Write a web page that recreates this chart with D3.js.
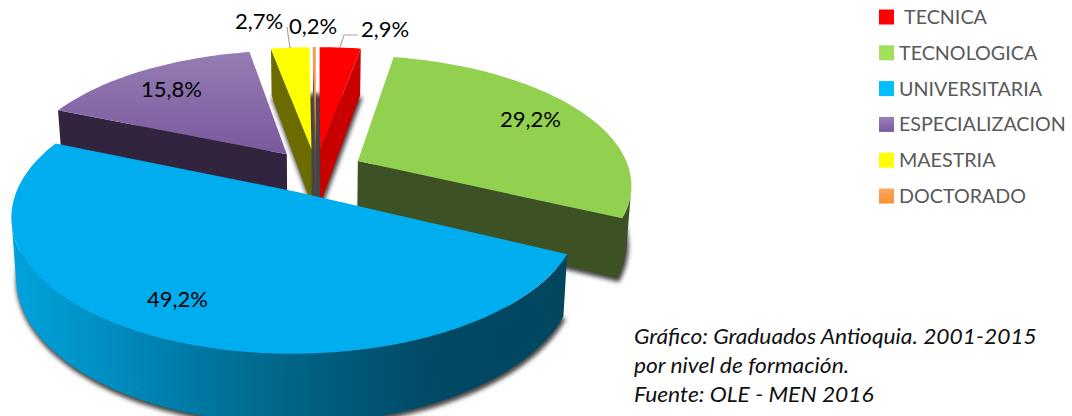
<!DOCTYPE html>
<html><head><meta charset="utf-8">
<script src="https://cdn.jsdelivr.net/npm/d3@7"></script>
<style>html,body{margin:0;padding:0;background:#fff}svg{display:block}text{font-family:Lato,sans-serif}</style>
</head><body><svg id="c" width="1072" height="416"></svg>
<script>
const categories = ["TECNICA","TECNOLOGICA","UNIVERSITARIA","ESPECIALIZACION","MAESTRIA","DOCTORADO"];
const values = [2.9,29.2,49.2,15.8,2.7,0.2];
const topColors = ["#ff0000","#92d050","#00aeef","url(#purpleTop)","#ffff00","#f79646"];
const wallColors = ["#c80000","#3d5224","url(#blueWall)","#32233f","#6b6b00","#6a5040"];
const legendColors = ["#ff0000","#a2e05c","#00bfff","url(#purpleLeg)","#ffff00","url(#orangeLeg)"];
const drawOrder = [3,0,4,5,1,2];
const caption = ["Gráfico: Graduados Antioquia. 2001-2015","por nivel de formación.","Fuente: OLE - MEN 2016"];

const X0=316,Y0=171,R=272,Rk=126.5,P=0.17,H=56,EXPLODE=0.175;
const svg=d3.select("#c");
const defs=svg.append("defs");
function grad(id,attrs,stops){const g=defs.append("linearGradient").attr("id",id);
  Object.entries(attrs).forEach(([k,v])=>g.attr(k,v));
  stops.forEach(([o,c])=>g.append("stop").attr("offset",o).attr("stop-color",c));}
grad("purpleTop",{gradientUnits:"userSpaceOnUse",x1:0,x2:0,y1:50,y2:155},[[0,"#957eb2"],[1,"#7a589e"]]);
grad("blueWall",{gradientUnits:"userSpaceOnUse",x1:11,x2:566,y1:0,y2:0},[[0,"#00a3dc"],[.17,"#008fc2"],[.35,"#0076a0"],[.55,"#005f80"],[.75,"#004a66"],[1,"#00465f"]]);
grad("purpleLeg",{x1:0,x2:0,y1:0,y2:1},[[0,"#9a82b8"],[1,"#7a589e"]]);
grad("orangeLeg",{x1:0,x2:0,y1:0,y2:1},[[0,"#ffa860"],[1,"#f79030"]]);
defs.append("filter").attr("id","soft").attr("x","-20%").attr("y","-20%").attr("width","140%").attr("height","140%")
  .append("feGaussianBlur").attr("stdDeviation",2);

const arcs=d3.pie().sort(null).value(d=>d)(values);
// perspective projection of a point on the pie's plane (z=0 top, z=1 bottom)
function proj(u,v,z){const s=1/(1-P*v);return [X0+R*u*s*(1-0.015*z),Y0+Rk*v*s+H*z*s];}
const line=d3.line();
const slices=arcs.map((a,i)=>{
  const mid=(a.startAngle+a.endAngle)/2;
  const ou=EXPLODE*Math.sin(mid),ov=-EXPLODE*Math.cos(mid);
  const n=Math.max(2,Math.ceil((a.endAngle-a.startAngle)/0.02));
  const th=d3.range(n+1).map(k=>a.startAngle+(a.endAngle-a.startAngle)*k/n);
  const at=(t,z)=>proj(ou+Math.sin(t),ov-Math.cos(t),z);
  return {i,th,at,apex:z=>proj(ou,ov,z)};
});
function wall(P0,P1,B1,B0){return line([P0,P1,B1,B0])+"Z";}

// soft shadow under every slice, taken from its bottom face
const sh=svg.append("g").attr("filter","url(#soft)").attr("transform","translate(1,3)");
slices.forEach(s=>{
  sh.append("path").attr("d",line([s.apex(1),...s.th.map(t=>s.at(t,1))])+"Z")
    .attr("fill","#444").attr("stroke","#444").attr("stroke-width",s.i===5?7:2);
});

drawOrder.forEach(i=>{
  const s=slices[i],g=svg.append("g");
  const fill=wallColors[i];
  const a0=s.th[0],a1=s.th[s.th.length-1];
  if(s.at(a0,0)[0]<s.apex(0)[0]-0.01)
    g.append("path").attr("d",wall(s.apex(0),s.at(a0,0),s.at(a0,1),s.apex(1))).attr("fill",fill);
  if(s.at(a1,0)[0]>s.apex(0)[0]+0.01)
    g.append("path").attr("d",wall(s.at(a1,0),s.apex(0),s.apex(1),s.at(a1,1))).attr("fill",fill);
  const vis=s.th.filter((t,k)=>{const q=s.th[k+1]??t;const p=s.th[k-1]??t;return s.at(q,0)[0]-s.at(p,0)[0]<0;});
  if(vis.length>1)
    g.append("path").attr("d",line([...vis.map(t=>s.at(t,0)),...vis.slice().reverse().map(t=>s.at(t,1))])+"Z").attr("fill",fill);
  g.append("path").attr("d",line([s.apex(0),...s.th.map(t=>s.at(t,0))])+"Z").attr("fill",topColors[i]);
});

// leader lines
const leaders=[[[340,47],[344,35],[358,35]],[[290,48],[287,27]]];
leaders.forEach(l=>svg.append("path").attr("d",line(l)).attr("fill","none").attr("stroke","#a6a6a6").attr("stroke-width",1.2));

// data labels
const labelLayout=[[361,37],[500,127],[147,307],[141,97],[235,29],[289,34]];
svg.append("g").selectAll("text").data(values).join("text")
  .attr("transform",(d,i)=>`translate(${labelLayout[i][0]},${labelLayout[i][1]}) scale(1.05,1)`)
  .attr("font-size",21).attr("fill","#000")
  .text(d=>d3.format(".1f")(d).replace(".",",")+"%");

// legend
const ly=d3.scalePoint().domain(categories).range([17,196]);
const leg=svg.append("g").selectAll("g").data(categories).join("g").attr("transform",d=>`translate(0,${ly(d)})`);
leg.append("rect").attr("x",879).attr("y",-7.5).attr("width",15).attr("height",15).attr("fill",(d,i)=>legendColors[i]);
leg.append("text").attr("x",(d,i)=>i===0?904:899).attr("y",7).attr("font-size",19.7).attr("fill","#595959").text(d=>d);

// caption
const cy=d3.scalePoint().domain(caption).range([344,402]);
svg.append("g").selectAll("text").data(caption).join("text")
  .attr("transform",d=>`translate(634,${cy(d)}) scale(1.06,1)`).attr("font-size",21.5).attr("font-style","italic").attr("fill","#111").text(d=>d);
</script></body></html>
